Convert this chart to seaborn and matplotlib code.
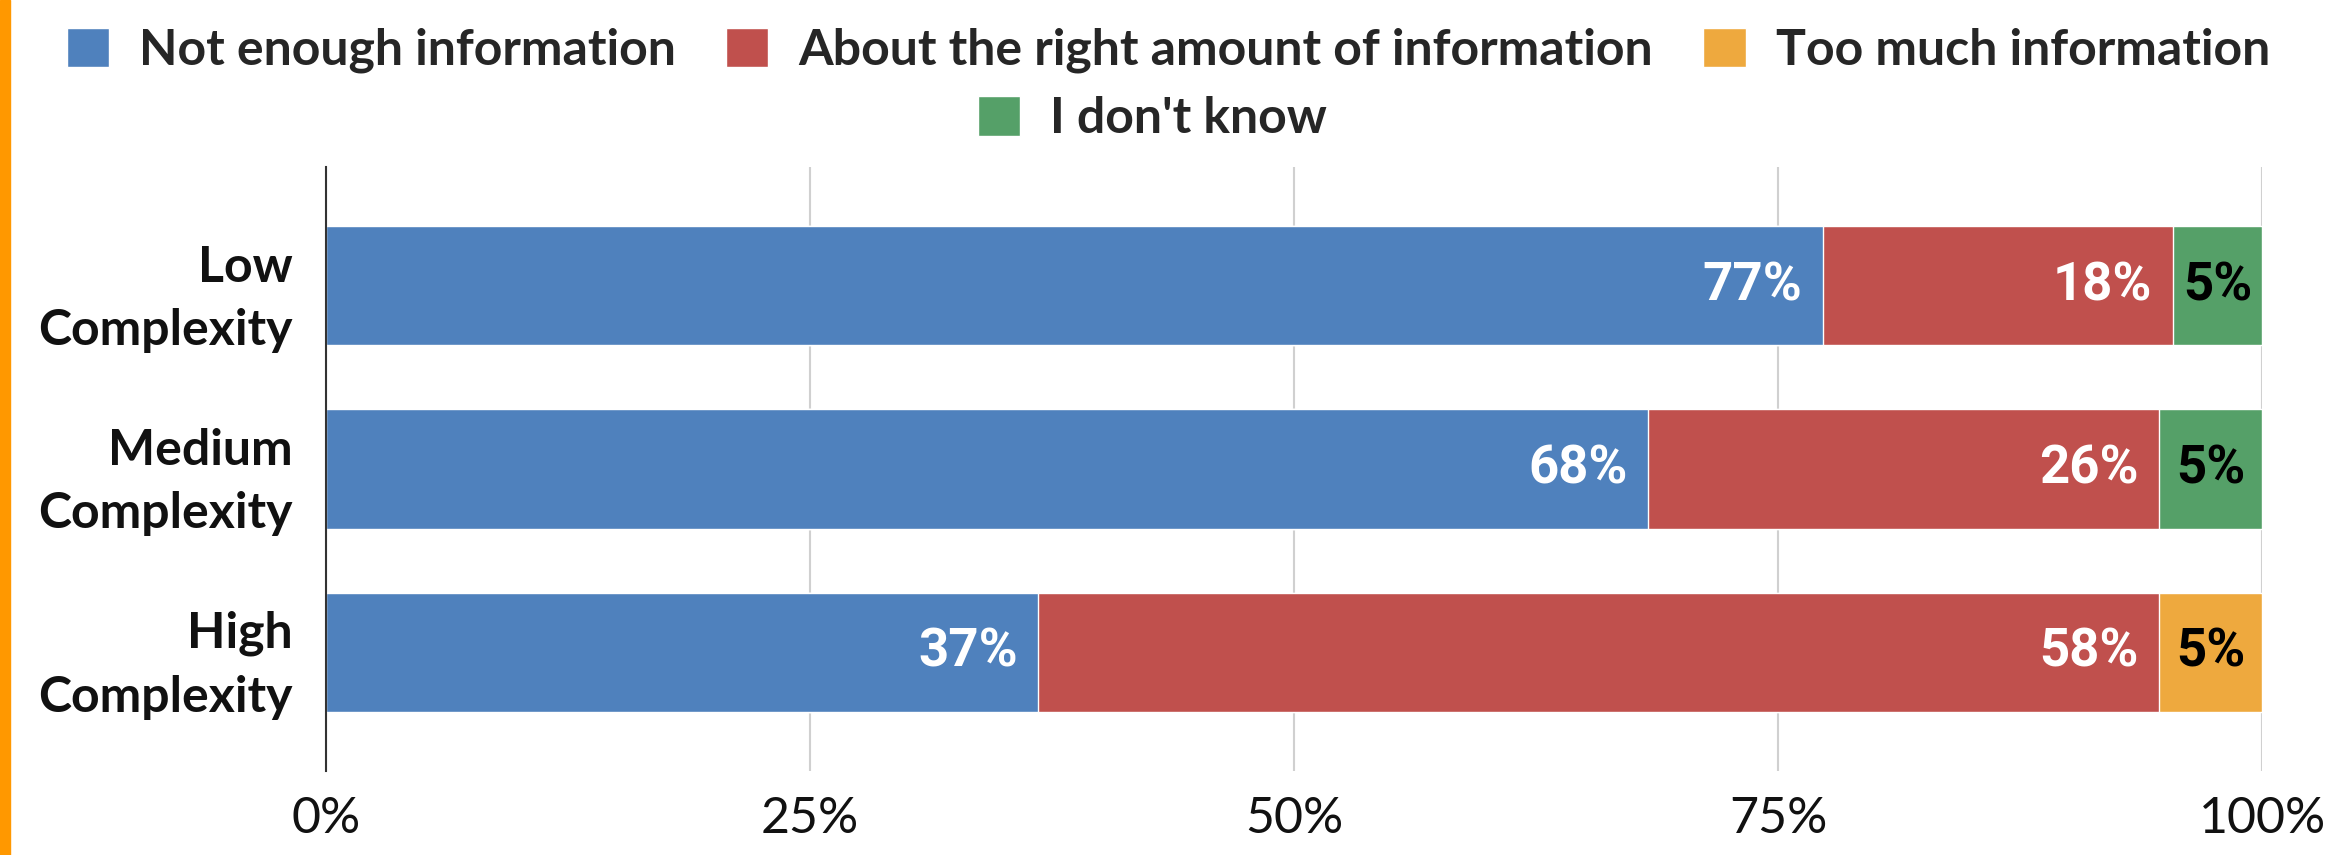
import numpy as np
import pandas as pd
import matplotlib.pyplot as plt
import seaborn as sns
from matplotlib.patches import Patch, Rectangle

# datos (en %)
categorias = ["Low\nComplexity", "Medium\nComplexity", "High\nComplexity"]
not_enough = [77.3, 68.3, 36.8]
about_right = [18.1, 26.4, 57.9]
too_much = [0.0, 0.0, 5.3]
dont_know = [4.6, 5.3, 0.0]

series = ["Not enough information", "About the right amount of information",
          "Too much information", "I don't know"]
colores = ["#4F81BD", "#C0504D", "#EEA93E", "#55A068"]
color_etiqueta = ["white", "white", "black", "black"]
xticks = [0, 25, 50, 75, 100]
xtick_labels = ["0%", "25%", "50%", "75%", "100%"]

sns.set_theme(style="white")
plt.rcParams["font.family"] = ["Lato", "DejaVu Sans"]

df = pd.DataFrame({"categoria": categorias, series[0]: not_enough, series[1]: about_right,
                   series[2]: too_much, series[3]: dont_know})
vals = df[series].to_numpy()
acum = vals.cumsum(axis=1)

fig, ax = plt.subplots(figsize=(23.33, 8.55), dpi=100)
fig.subplots_adjust(left=0.1397, right=0.9696, top=0.805, bottom=0.098)

# barras apiladas: se dibujan los acumulados de atras hacia adelante
for k in range(len(series) - 1, -1, -1):
    tmp = df[["categoria"]].copy()
    tmp["total"] = acum[:, k]
    tmp = tmp[vals[:, k] > 0]
    sns.barplot(data=tmp, x="total", y="categoria", order=categorias, color=colores[k],
                saturation=1, width=0.65, errorbar=None, ax=ax, zorder=2)

# etiquetas de los valores
for i in range(len(categorias)):
    for k in range(len(series)):
        v = vals[i, k]
        if v <= 0:
            continue
        if k < 2:
            ax.annotate(f"{v:.0f}%", xy=(acum[i, k], i), xytext=(-15, 0), textcoords="offset points",
                        ha="right", va="center", color=color_etiqueta[k], fontsize=38,
                        fontweight="bold", family=["Roboto", "DejaVu Sans"], zorder=5)
        else:
            ax.annotate(f"{v:.0f}%", xy=(acum[i, k] - v / 2, i), ha="center", va="center",
                        color=color_etiqueta[k], fontsize=38, fontweight="bold",
                        family=["Roboto", "DejaVu Sans"], zorder=5)

ax.set_xlim(0, 100)
ax.set_ylim(2.65, -0.65)
ax.set_xticks(xticks)
ax.set_xticklabels(xtick_labels, fontsize=36)
ax.set_xlabel("")
ax.set_ylabel("")
ax.xaxis.grid(True, color="#D0D0D0", linewidth=1.5, zorder=0)
ax.set_axisbelow(True)
for s in ["top", "right", "bottom"]:
    ax.spines[s].set_visible(False)
ax.spines["left"].set_color("#333333")
ax.spines["left"].set_linewidth(1.5)
ax.tick_params(axis="x", length=0, pad=18, colors="#111111")
ax.tick_params(axis="y", length=0, pad=24)
for lbl in ax.get_yticklabels():
    lbl.set_fontsize(36)
    lbl.set_fontweight("bold")
    lbl.set_linespacing(1.5)
    lbl.set_color("#111111")

# leyenda en dos filas
handles = [Patch(facecolor=c) for c in colores]
opciones = dict(loc="center", frameon=False, handlelength=0.85, handleheight=0.85,
                handletextpad=0.6, columnspacing=1.0,
                prop={"size": 36, "weight": "bold", "family": ["Lato", "DejaVu Sans"]})
fig.legend(handles[:3], series[:3], bbox_to_anchor=(0.5007, 0.941), ncol=3, **opciones)
fig.legend(handles[3:], series[3:], bbox_to_anchor=(0.494, 0.861), ncol=1, **opciones)

# franja naranja a la izquierda
fig.add_artist(Rectangle((0, 0), 10 / 2333, 1, transform=fig.transFigure, color="#FF9800"))

fig.savefig("out.png", dpi=100)
